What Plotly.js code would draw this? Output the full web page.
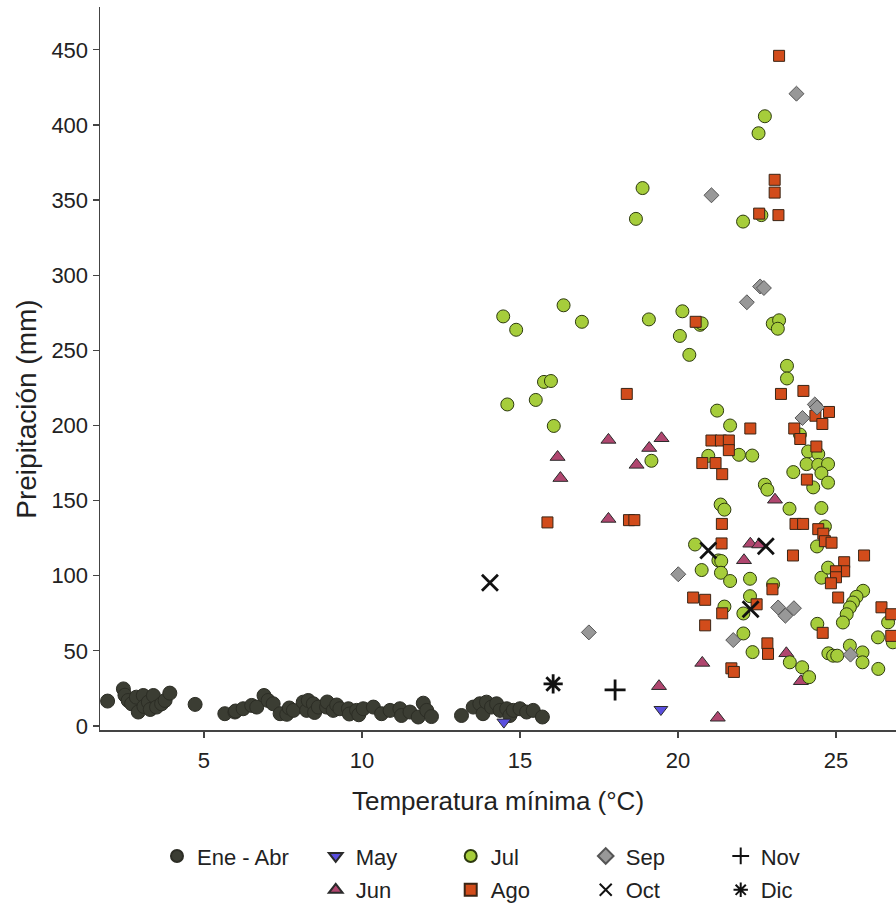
<!DOCTYPE html>
<html>
<head>
<meta charset="utf-8">
<script src="https://cdn.plot.ly/plotly-3.0.1.min.js"></script>
<style>html,body{margin:0;padding:0;background:#fff;} #chart{width:896px;height:911px;}</style>
</head>
<body>
<div id="chart"></div>
<script>
// ---- Data (Temperatura mínima °C, Precipitación mm) ----
const eneAbrT = [1.95,2.45,2.5,2.6,2.71,2.86,2.92,3.08,3.1,3.24,3.3,3.4,3.5,3.66,3.77,3.92,4.72,5.66,5.98,6.0,6.24,6.51,6.67,6.9,7.03,7.19,7.41,7.62,7.7,7.83,8.14,8.25,8.3,8.46,8.5,8.62,8.88,8.9,9.09,9.2,9.3,9.57,9.6,9.83,9.9,10.04,10.36,10.62,10.89,11.2,11.25,11.52,11.78,11.94,12.05,12.2,13.15,13.52,13.73,13.83,13.94,14.1,14.26,14.37,14.58,14.68,14.79,15.0,15.21,15.42,15.71];
const eneAbrP = [16.6,24.7,20.5,17,14.8,19.2,9.3,20.3,13,15.9,11,20.3,12.6,14.8,17,21.9,14.4,8.2,9.3,10,11.5,13.7,12.6,20.3,17,14.8,8.2,7.8,12,10.4,15.9,10.4,17,14.8,9,12.6,12.6,16,10.4,14,11.5,11.5,8,10.4,7.5,11.5,12.6,8.2,10.4,11.5,7,9.3,6,15.2,10.4,6.3,7,12.6,14.8,8.2,15.9,12.6,14.8,10.4,11.5,7,10.4,11.5,9.3,10.4,6];

const mayT = [14.49,19.46];
const mayP = [2.6,11];

const junT = [16.19,16.28,17.8,17.8,18.69,19.09,19.48,22.29,22.57,22.09,23.07,23.43,23.89,20.77,19.4,21.26];
const junP = [179,165,190.4,137.8,173.8,185,191.5,121.3,120.8,110.3,150.6,48.4,29.8,42,26.5,5.5];

const julT = [22.75,22.55,18.88,18.67,22.06,22.64,14.47,14.88,16.38,16.96,19.08,20.14,20.06,20.36,20.7,20.75,23.0,23.2,23.16,23.45,23.45,15.76,15.98,14.6,15.5,16.07,21.24,21.65,21.93,22.35,20.96,19.16,22.75,22.83,24.12,24.44,24.07,24.44,24.75,24.54,24.75,23.65,24.28,23.86,21.35,21.47,23.53,24.54,24.65,20.54,21.28,21.37,20.75,21.36,21.65,22.28,22.28,23.01,21.47,22.07,22.07,22.36,23.54,23.93,24.15,24.41,24.4,24.54,24.75,25.86,25.65,25.54,25.44,25.34,25.22,24.76,24.91,25.04,25.44,25.84,25.84,26.34,26.33,26.65,26.8];
const julP = [405.8,394.5,358,337.5,335.7,340,272.6,263.7,280,269,270.6,276,259.6,247,267,268,267.8,270,264.4,239.7,231.3,229,229.6,214,217,199.7,209.9,200,180.5,180,179.8,176.5,160.6,157.3,182.7,181,174.3,173.8,174.3,168.3,162,169,158.8,194,147.4,144,144.6,145.1,132.8,120.8,110.2,109.8,103.8,102,96.5,98,86.4,94.3,79.5,74.9,61.6,49.2,42.4,39.1,32.5,68,119.5,98.7,105.4,90,86,82.2,78.9,74.4,68.9,48.4,46.8,46.8,53.5,49,42.4,38,59,69,55.7];

const agoT = [23.2,23.06,23.06,22.57,23.18,20.56,18.38,23.26,23.97,24.78,24.35,24.57,23.68,23.87,24.38,24.08,22.29,21.06,21.36,21.61,21.61,20.77,21.19,21.4,21.39,23.72,23.96,24.44,24.6,15.87,18.45,18.62,21.38,23.64,25.89,25.26,25.26,25.0,25.0,24.84,22.99,20.48,20.86,21.4,22.49,25.07,20.86,24.58,26.44,26.75,26.75,22.83,22.85,21.69,21.77,24.65,24.86];
const agoP = [446,363.5,355,341,340,269,221,221,223,209,206.5,201,198,191,186,164,198,190,190,190,183.6,175,175,167.6,134.5,134.5,134.5,131,128,135.5,137,137,121.5,113.5,113.5,109,103,103,99,95,91,85.5,84,75,81,85.5,67,62,79,74.4,60,55,48,38.4,36,123,122];

const sepT = [23.75,21.06,22.6,22.72,22.18,24.33,24.4,23.94,20.01,23.17,23.67,23.4,21.75,25.46,17.18];
const sepP = [420.8,353.2,292.5,291.5,282,214,212,205,101,78.9,78.4,73.4,57.2,47.5,62.3];

const octT = [14.05,20.96,22.78,22.3];
const octP = [95.4,116.8,119.7,77.7];

const novT = [18.01];
const novP = [24];

const dicT = [16.05];
const dicP = [28];

const xTicks = [5,10,15,20,25];
const yTicks = [0,50,100,150,200,250,300,350,400,450];
const xTitle = 'Temperatura mínima (°C)';
const yTitle = 'Preipitación (mm)';

// ---- Traces ----
const edge = '#2b2b2b';
function filled(name, x, y, symbol, size, color, lineColor, legend) {
  return {type:'scatter', mode:'markers', name, x, y, legend, hoverinfo:'x+y+name',
    marker:{symbol, size, color, line:{color: lineColor, width:1}}};
}
function lineSym(name, x, y, symbol, size, legend) {
  return {type:'scatter', mode:'markers', name, x, y, legend, hoverinfo:'x+y+name',
    marker:{symbol, size, color:'#111', line:{color:'#111', width:2.8}}};
}

const traces = [
  filled('Ene - Abr', eneAbrT, eneAbrP, 'circle', 14, '#3b3d33', '#2c2d25', 'legend'),
  filled('May', mayT, mayP, 'triangle-down', 12, '#5a4fdf', edge, 'legend2'),
  filled('Jun', junT, junP, 'triangle-up', 13, '#b0466f', edge, 'legend3'),
  filled('Jul', julT, julP, 'circle', 13, '#a6cd3b', '#2d3a0f', 'legend2'),
  filled('Ago', agoT, agoP, 'square', 11, '#d24c1b', '#3a2515', 'legend3'),
  filled('Sep', sepT, sepP, 'diamond', 11.5, '#989898', '#555', 'legend2'),
  lineSym('Oct', octT, octP, 'x-thin-open', 16, 'legend3'),
  lineSym('Nov', novT, novP, 'cross-thin-open', 15, 'legend2'),
  lineSym('Dic', dicT, dicP, 'asterisk-open', 16, 'legend3')
];

const font = 'Liberation Sans, Arial, Helvetica, sans-serif';
const legFont = {family: font, size: 22, color: '#222'};

const layout = {
  width: 896, height: 911,
  margin: {l:100, r:0, t:7, b:178, pad:0},
  paper_bgcolor:'#fff', plot_bgcolor:'#fff',
  font: {family: font, color:'#222'},
  xaxis: {
    range:[1.71, 26.9], tickvals: xTicks, ticktext: xTicks.map(String),
    showgrid:false, zeroline:false, showline:true, linecolor:'#444', linewidth:1.5,
    ticks:'outside', ticklen:6, tickwidth:1.2, tickcolor:'#444', ticklabelstandoff:4,
    tickfont:{family:font, size:22, color:'#222'},
    title:{text:xTitle, font:{family:font, size:26, color:'#222'}, standoff:20}
  },
  yaxis: {
    range:[-2.65, 478.5], tickvals: yTicks, ticktext: yTicks.map(String),
    showgrid:false, zeroline:false, showline:true, linecolor:'#444', linewidth:1.5,
    ticks:'outside', ticklen:6, tickwidth:1.2, tickcolor:'#444',
    tickfont:{family:font, size:22, color:'#222'}
  },
  annotations: [{
    text: yTitle, xref:'paper', yref:'paper', x:-0.0917, y:0.443,
    xanchor:'center', yanchor:'middle', textangle:-90, showarrow:false,
    font:{family:font, size:28, color:'#222'}
  }],
  legend: {orientation:'h', x:0.0716, xanchor:'left', y:-0.1745, yanchor:'middle',
    font:legFont, bgcolor:'rgba(0,0,0,0)', itemsizing:'constant'},
  legend2: {orientation:'h', x:0.271, xanchor:'left', y:-0.1745, yanchor:'middle',
    font:legFont, bgcolor:'rgba(0,0,0,0)', entrywidth:90, itemsizing:'constant'},
  legend3: {orientation:'h', x:0.271, xanchor:'left', y:-0.2215, yanchor:'middle',
    font:legFont, bgcolor:'rgba(0,0,0,0)', entrywidth:90, itemsizing:'constant'},
  showlegend: true
};

Plotly.newPlot('chart', traces, layout, {displayModeBar:false, staticPlot:true});
</script>
</body>
</html>
